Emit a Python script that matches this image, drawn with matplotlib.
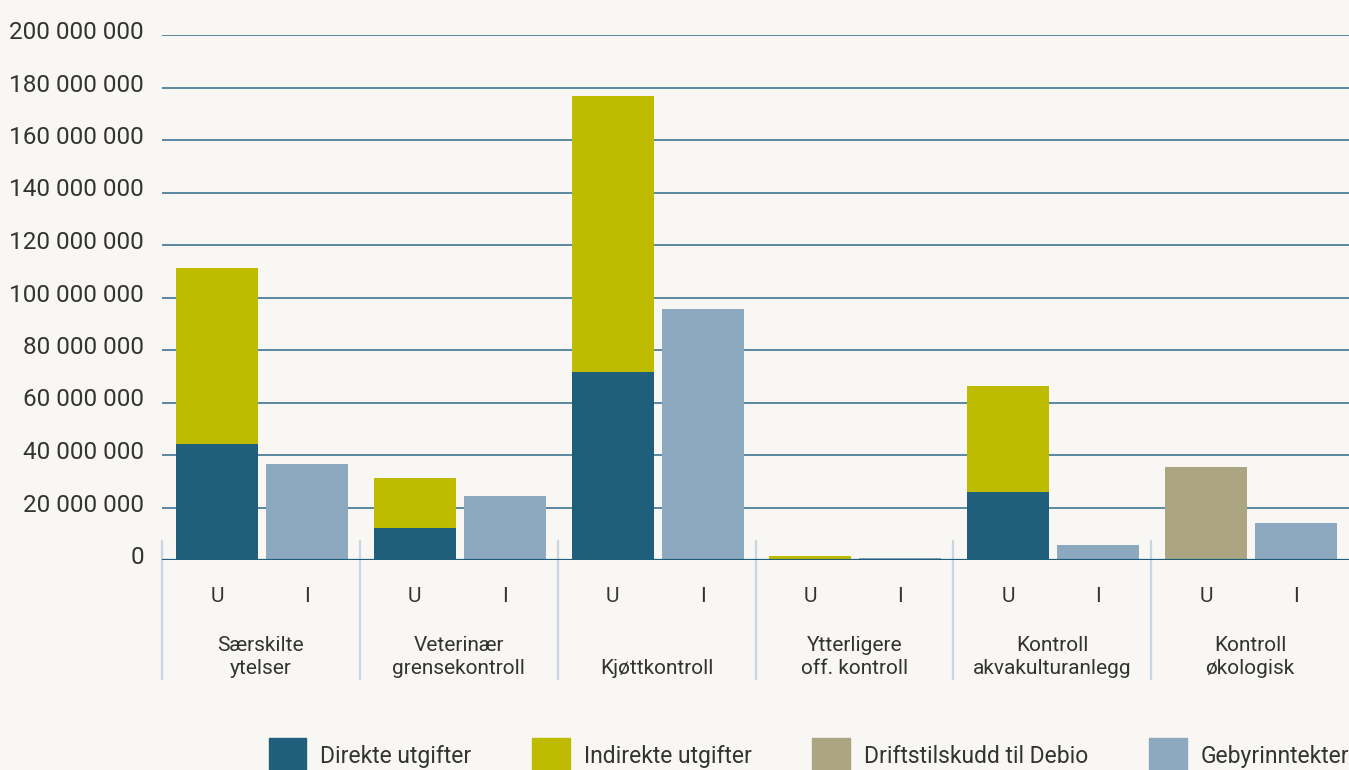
import numpy as np
import matplotlib
matplotlib.use("Agg")
import matplotlib.pyplot as plt
import matplotlib.transforms as mtransforms
from matplotlib.patches import Patch

plt.rcParams['font.family'] = ['Roboto', 'DejaVu Sans']

# Data (NOK)
categories = ["Særskilte\nytelser", "Veterinær\ngrensekontroll", "Kjøttkontroll",
              "Ytterligere\noff. kontroll", "Kontroll\nakvakulturanlegg", "Kontroll\nøkologisk"]
direkte = [44.2e6, 12.2e6, 71.6e6, 0.5e6, 25.9e6, 0.0]
indirekte = [67.0e6, 19.0e6, 105.2e6, 1.1e6, 40.4e6, 0.0]
debio = [0.0, 0.0, 0.0, 0.0, 0.0, 35.4e6]
gebyr = [36.6e6, 24.4e6, 95.6e6, 0.6e6, 5.7e6, 14.1e6]
yticks = np.arange(0, 200e6 + 1, 20e6)

bg = "#f8f7f3"
c_dir = "#1f5f7b"
c_ind = "#bfbb00"
c_deb = "#aba582"
c_geb = "#8da9bf"
txt = "#333333"

fig = plt.figure(figsize=(13.49, 7.70), dpi=100, facecolor=bg)
ax = fig.add_axes([162 / 1349, 1 - 560 / 770, 1 - 162 / 1349, 525 / 770])
ax.set_facecolor(bg)

n = len(categories)
groups = np.arange(n)
bw = 82 / 198
xu = groups + 0.5 - 44 / 198
xi = groups + 0.5 + 46 / 198

direkte = np.array(direkte)
indirekte = np.array(indirekte)
ax.bar(xu, direkte, bw, color=c_dir, zorder=3)
ax.bar(xu, indirekte, bw, bottom=direkte, color=c_ind, zorder=3)
ax.bar(xu, debio, bw, color=c_deb, zorder=3)
ax.bar(xi, gebyr, bw, color=c_geb, zorder=3)

ax.set_xlim(0, n)
ax.set_ylim(0, 200e6)

# gridlines
for y in yticks[1:]:
    ax.axhline(y, color="#4f7f9c", lw=1.3, zorder=1)
ax.axhline(0, color="#1f5f7b", lw=1.6, zorder=4)

for s in ax.spines.values():
    s.set_visible(False)
ax.set_xticks([])
ax.set_yticks(yticks)
ax.set_yticklabels([f"{int(v):,}".replace(",", " ") for v in yticks])
ax.tick_params(axis="y", length=0, pad=13, labelsize=17.5, labelcolor=txt)
off = mtransforms.ScaledTranslation(0, 5 / 100, fig.dpi_scale_trans)
for lab in ax.get_yticklabels():
    lab.set_transform(lab.get_transform() + off)

# group separators and labels below the axis
trans = mtransforms.blended_transform_factory(ax.transData, ax.transAxes)
ax.vlines(groups, -120 / 525, 20 / 525, transform=trans, color="#c9d6e1",
          lw=1.6, clip_on=False, zorder=2)
for g in groups:
    ax.text(xu[g], -37 / 525, "U", transform=trans, ha="center", va="center",
            fontsize=15, color=txt)
    ax.text(xi[g], -37 / 525, "I", transform=trans, ha="center", va="center",
            fontsize=15, color=txt)
    ax.text(g + 0.5, -118 / 525, categories[g], transform=trans, ha="center",
            va="bottom", fontsize=15, color=txt, linespacing=1.25)

handles = [Patch(color=c_dir, label="Direkte utgifter"),
           Patch(color=c_ind, label="Indirekte utgifter"),
           Patch(color=c_deb, label="Driftstilskudd til Debio"),
           Patch(color=c_geb, label="Gebyrinntekter")]
leg = fig.legend(handles=handles, ncol=4, loc="lower right",
                 bbox_to_anchor=(1.0, -0.004), frameon=False, fontsize=16.5,
                 handlelength=1.65, handleheight=1.95, handletextpad=0.6,
                 columnspacing=2.65, borderaxespad=0, borderpad=0)
for t in leg.get_texts():
    t.set_color(txt)

fig.savefig("out.png", dpi=100, facecolor=bg)
